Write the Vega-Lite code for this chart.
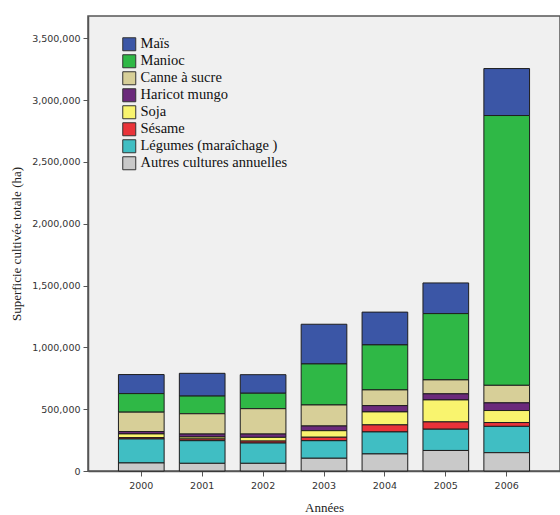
{
  "$schema": "https://vega.github.io/schema/vega-lite/v6.json",
  "autosize": {"type": "none"},
  "padding": {"left": 88, "top": 16, "right": 0, "bottom": 44},
  "width": 472,
  "height": 455,
  "background": "white",
  "config": {
    "view": {"fill": "#f0f0f0", "stroke": "#555555", "strokeWidth": 1.5},
    "axis": {
      "labelFont": "DejaVu Sans", "labelFontSize": 9.5, "labelColor": "#333333",
      "titleFont": "Liberation Serif", "titleFontSize": 13, "titleFontWeight": "normal", "titleColor": "#222222",
      "domainColor": "#555555", "domainWidth": 1.5, "tickColor": "#555555", "tickSize": 5, "grid": false
    }
  },
  "data": {
    "values": [
      {"annee": "2000", "culture": "Maïs", "superficie": 154000},
      {"annee": "2000", "culture": "Manioc", "superficie": 150000},
      {"annee": "2000", "culture": "Canne à sucre", "superficie": 157000},
      {"annee": "2000", "culture": "Haricot mungo", "superficie": 19000},
      {"annee": "2000", "culture": "Soja", "superficie": 30000},
      {"annee": "2000", "culture": "Sésame", "superficie": 11000},
      {"annee": "2000", "culture": "Légumes (maraîchage )", "superficie": 194000},
      {"annee": "2000", "culture": "Autres cultures annuelles", "superficie": 65000},
      {"annee": "2001", "culture": "Maïs", "superficie": 184000},
      {"annee": "2001", "culture": "Manioc", "superficie": 143000},
      {"annee": "2001", "culture": "Canne à sucre", "superficie": 164000},
      {"annee": "2001", "culture": "Haricot mungo", "superficie": 24000},
      {"annee": "2001", "culture": "Soja", "superficie": 16000},
      {"annee": "2001", "culture": "Sésame", "superficie": 14000},
      {"annee": "2001", "culture": "Légumes (maraîchage )", "superficie": 183000},
      {"annee": "2001", "culture": "Autres cultures annuelles", "superficie": 62000},
      {"annee": "2002", "culture": "Maïs", "superficie": 150000},
      {"annee": "2002", "culture": "Manioc", "superficie": 125000},
      {"annee": "2002", "culture": "Canne à sucre", "superficie": 205000},
      {"annee": "2002", "culture": "Haricot mungo", "superficie": 27000},
      {"annee": "2002", "culture": "Soja", "superficie": 30000},
      {"annee": "2002", "culture": "Sésame", "superficie": 16000},
      {"annee": "2002", "culture": "Légumes (maraîchage )", "superficie": 164000},
      {"annee": "2002", "culture": "Autres cultures annuelles", "superficie": 62000},
      {"annee": "2003", "culture": "Maïs", "superficie": 321000},
      {"annee": "2003", "culture": "Manioc", "superficie": 332000},
      {"annee": "2003", "culture": "Canne à sucre", "superficie": 170000},
      {"annee": "2003", "culture": "Haricot mungo", "superficie": 38000},
      {"annee": "2003", "culture": "Soja", "superficie": 53000},
      {"annee": "2003", "culture": "Sésame", "superficie": 28000},
      {"annee": "2003", "culture": "Légumes (maraîchage )", "superficie": 142000},
      {"annee": "2003", "culture": "Autres cultures annuelles", "superficie": 103000},
      {"annee": "2004", "culture": "Maïs", "superficie": 265000},
      {"annee": "2004", "culture": "Manioc", "superficie": 364000},
      {"annee": "2004", "culture": "Canne à sucre", "superficie": 127000},
      {"annee": "2004", "culture": "Haricot mungo", "superficie": 51000},
      {"annee": "2004", "culture": "Soja", "superficie": 105000},
      {"annee": "2004", "culture": "Sésame", "superficie": 57000},
      {"annee": "2004", "culture": "Légumes (maraîchage )", "superficie": 178000},
      {"annee": "2004", "culture": "Autres cultures annuelles", "superficie": 138000},
      {"annee": "2005", "culture": "Maïs", "superficie": 248000},
      {"annee": "2005", "culture": "Manioc", "superficie": 536000},
      {"annee": "2005", "culture": "Canne à sucre", "superficie": 113000},
      {"annee": "2005", "culture": "Haricot mungo", "superficie": 49000},
      {"annee": "2005", "culture": "Soja", "superficie": 178000},
      {"annee": "2005", "culture": "Sésame", "superficie": 59000},
      {"annee": "2005", "culture": "Légumes (maraîchage )", "superficie": 172000},
      {"annee": "2005", "culture": "Autres cultures annuelles", "superficie": 166000},
      {"annee": "2006", "culture": "Maïs", "superficie": 380000},
      {"annee": "2006", "culture": "Manioc", "superficie": 2182000},
      {"annee": "2006", "culture": "Canne à sucre", "superficie": 142000},
      {"annee": "2006", "culture": "Haricot mungo", "superficie": 62000},
      {"annee": "2006", "culture": "Soja", "superficie": 97000},
      {"annee": "2006", "culture": "Sésame", "superficie": 31000},
      {"annee": "2006", "culture": "Légumes (maraîchage )", "superficie": 213000},
      {"annee": "2006", "culture": "Autres cultures annuelles", "superficie": 148000}
    ]
  },
  "transform": [
    {"calculate": "indexof(['Autres cultures annuelles', 'Légumes (maraîchage )', 'Sésame', 'Soja', 'Haricot mungo', 'Canne à sucre', 'Manioc', 'Maïs'], datum.culture)", "as": "rang"}
  ],
  "mark": {"type": "bar", "stroke": "#1e1e1e", "strokeWidth": 1},
  "encoding": {
    "x": {
      "field": "annee", "type": "nominal", "title": "Années",
      "scale": {"paddingInner": 0.25, "paddingOuter": 0.5},
      "axis": {"labelAngle": 0, "labelPadding": 4, "titlePadding": 12}
    },
    "y": {
      "field": "superficie", "type": "quantitative", "aggregate": "sum",
      "title": "Superficie cultivée totale (ha)",
      "scale": {"domain": [0, 3680000], "nice": false, "zero": true},
      "axis": {"values": [0, 500000, 1000000, 1500000, 2000000, 2500000, 3000000, 3500000], "format": ",d", "labelPadding": 3, "titlePadding": 8}
    },
    "order": {"field": "rang", "type": "quantitative", "sort": "ascending"},
    "color": {
      "field": "culture", "type": "nominal",
      "scale": {
        "domain": ["Maïs", "Manioc", "Canne à sucre", "Haricot mungo", "Soja", "Sésame", "Légumes (maraîchage )", "Autres cultures annuelles"],
        "range": ["#3b56a6", "#2fb846", "#d7cf98", "#6b2a7b", "#f9f46e", "#e93339", "#40bec3", "#c9c9c9"]
      },
      "legend": {
        "title": null,
        "orient": "none", "legendX": 34, "legendY": 21,
        "labelFont": "Liberation Serif", "labelFontSize": 14.5, "labelColor": "#111111",
        "symbolType": "square", "symbolSize": 169, "symbolStrokeColor": "#333333", "symbolStrokeWidth": 1,
        "labelOffset": 4, "rowPadding": -1
      }
    }
  }
}
